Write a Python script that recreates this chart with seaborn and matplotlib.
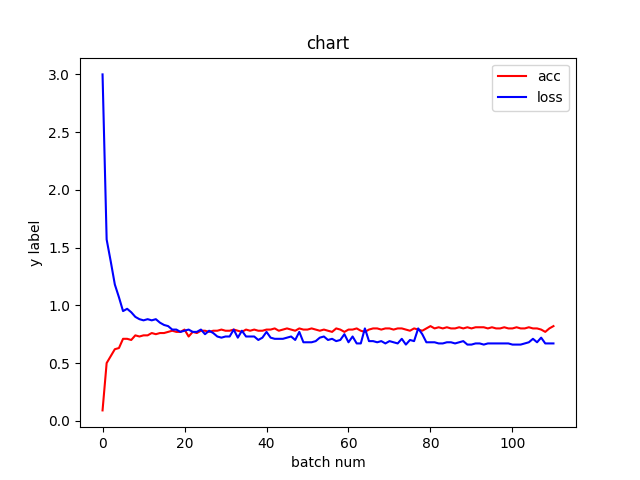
import matplotlib
matplotlib.use("Agg")
import matplotlib.pyplot as plt
import seaborn as sns

acc = [0.09, 0.50, 0.56, 0.62, 0.63, 0.71, 0.71, 0.70, 0.74, 0.73,
       0.74, 0.74, 0.76, 0.75, 0.76, 0.76, 0.77, 0.78, 0.77, 0.77,
       0.79, 0.73, 0.77, 0.76, 0.78, 0.78, 0.77, 0.78, 0.78, 0.79,
       0.78, 0.78, 0.79, 0.78, 0.77, 0.79, 0.78, 0.79, 0.78, 0.78,
       0.79, 0.79, 0.80, 0.78, 0.79, 0.80, 0.79, 0.78, 0.80, 0.79,
       0.79, 0.80, 0.79, 0.78, 0.79, 0.78, 0.77, 0.80, 0.79, 0.77,
       0.79, 0.79, 0.80, 0.78, 0.77, 0.79, 0.80, 0.80, 0.79, 0.80,
       0.80, 0.79, 0.80, 0.80, 0.79, 0.78, 0.80, 0.79, 0.78, 0.80,
       0.82, 0.80, 0.81, 0.80, 0.81, 0.80, 0.80, 0.81, 0.80, 0.81,
       0.80, 0.81, 0.81, 0.81, 0.80, 0.81, 0.80, 0.80, 0.81, 0.80,
       0.80, 0.81, 0.80, 0.80, 0.81, 0.80, 0.80, 0.79, 0.77, 0.80,
       0.82]
loss = [3.00, 1.57, 1.38, 1.18, 1.07, 0.95, 0.97, 0.94, 0.90, 0.88,
        0.87, 0.88, 0.87, 0.88, 0.85, 0.83, 0.82, 0.79, 0.79, 0.77,
        0.78, 0.79, 0.77, 0.77, 0.79, 0.75, 0.78, 0.76, 0.73, 0.72,
        0.73, 0.73, 0.79, 0.72, 0.78, 0.73, 0.73, 0.73, 0.70, 0.72,
        0.77, 0.72, 0.71, 0.71, 0.71, 0.72, 0.73, 0.70, 0.77, 0.68,
        0.68, 0.68, 0.69, 0.72, 0.73, 0.70, 0.71, 0.69, 0.70, 0.75,
        0.68, 0.73, 0.67, 0.67, 0.80, 0.69, 0.69, 0.68, 0.69, 0.67,
        0.69, 0.68, 0.67, 0.71, 0.66, 0.70, 0.69, 0.80, 0.75, 0.68,
        0.68, 0.68, 0.67, 0.67, 0.68, 0.68, 0.67, 0.68, 0.69, 0.66,
        0.66, 0.67, 0.67, 0.66, 0.67, 0.67, 0.67, 0.67, 0.67, 0.67,
        0.66, 0.66, 0.66, 0.67, 0.68, 0.71, 0.68, 0.72, 0.67, 0.67,
        0.67]

fig, ax = plt.subplots(figsize=(6.4, 4.8), dpi=100)
sns.lineplot(x=list(range(len(acc))), y=acc, color="red", label="acc", ax=ax)
sns.lineplot(x=list(range(len(loss))), y=loss, color="blue", label="loss", ax=ax)
ax.set_title("chart")
ax.set_xlabel("batch num")
ax.set_ylabel("y label")
ax.legend(loc="upper right")
fig.savefig("out.png")
